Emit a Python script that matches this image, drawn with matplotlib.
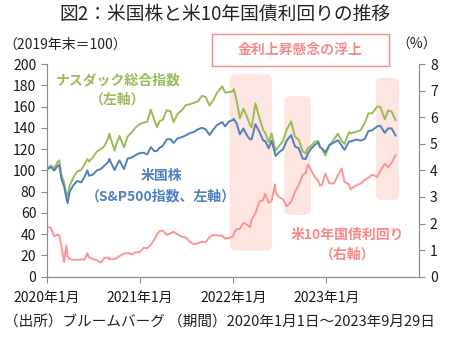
import numpy as np
import pandas as pd
import matplotlib
matplotlib.use('Agg')
import matplotlib.pyplot as plt
import matplotlib.dates as mdates
from matplotlib.patches import FancyBboxPatch, Rectangle

plt.rcParams['font.family'] = ['Noto Sans CJK JP', 'DejaVu Sans']

# 日付（半月ごと＋主な山・谷）
dates = [
    '2020-01-02', '2020-01-17', '2020-01-31', '2020-02-14', '2020-02-19', '2020-02-28',
    '2020-03-09', '2020-03-18', '2020-03-23', '2020-03-31', '2020-04-15', '2020-04-30',
    '2020-05-15', '2020-05-29', '2020-06-08', '2020-06-15', '2020-06-30', '2020-07-15',
    '2020-07-31', '2020-08-14', '2020-08-31', '2020-09-02', '2020-09-23', '2020-09-30',
    '2020-10-12', '2020-10-30', '2020-11-13', '2020-11-30', '2020-12-15', '2020-12-31',
    '2021-01-15', '2021-01-29', '2021-02-12', '2021-02-26', '2021-03-08', '2021-03-18',
    '2021-03-31', '2021-04-15', '2021-04-30', '2021-05-12', '2021-05-28', '2021-06-15',
    '2021-06-30', '2021-07-15', '2021-07-30', '2021-08-16', '2021-08-31', '2021-09-15',
    '2021-09-30', '2021-10-15', '2021-10-29', '2021-11-19', '2021-11-30', '2021-12-15',
    '2021-12-31',
    '2022-01-03', '2022-01-14', '2022-01-27', '2022-02-10', '2022-02-24', '2022-03-08',
    '2022-03-14', '2022-03-29', '2022-04-14', '2022-04-29', '2022-05-06', '2022-05-20',
    '2022-05-31', '2022-06-14', '2022-06-16', '2022-06-30', '2022-07-15', '2022-07-29',
    '2022-08-16', '2022-08-31', '2022-09-15', '2022-09-30', '2022-10-12', '2022-10-21',
    '2022-10-31', '2022-11-15', '2022-11-30', '2022-12-07', '2022-12-15', '2022-12-28',
    '2023-01-13', '2023-01-31', '2023-02-15', '2023-03-02', '2023-03-13', '2023-03-31',
    '2023-04-06', '2023-04-28', '2023-05-15', '2023-05-31', '2023-06-15', '2023-06-30',
    '2023-07-19', '2023-07-31', '2023-08-18', '2023-08-31', '2023-09-14', '2023-09-29',
]

# 米国株（S&P500、2019年末＝100）
sp500 = [
    100.8, 103.1, 99.8, 104.6, 104.8, 91.4,
    85.0, 74.2, 69.2, 80.0, 86.1, 90.1,
    88.6, 94.2, 100.0, 94.9, 96.0, 99.9,
    101.2, 104.4, 108.3, 110.8, 100.2, 104.1,
    109.4, 101.2, 111.0, 112.1, 114.4, 116.3,
    116.6, 115.0, 121.8, 118.0, 118.3, 121.2,
    123.0, 129.1, 129.4, 125.8, 130.1, 131.4,
    133.0, 135.0, 136.0, 138.6, 140.0, 138.7,
    133.3, 138.4, 142.5, 145.4, 141.4, 145.8,
    147.5,
    148.5, 144.3, 133.9, 139.4, 132.7, 129.1,
    129.2, 143.4, 136.0, 127.9, 127.6, 120.7,
    127.9, 115.6, 113.5, 117.2, 119.6, 127.8,
    133.2, 122.4, 120.7, 111.0, 110.7, 116.1,
    119.8, 123.6, 126.3, 121.7, 120.6, 117.1,
    123.8, 126.2, 128.4, 123.3, 119.3, 127.2,
    127.1, 129.0, 128.0, 129.4, 137.0, 137.7,
    141.3, 142.0, 135.3, 139.5, 139.4, 132.7,
]

# ナスダック総合指数（2019年末＝100）
nasdaq = [
    101.3, 104.6, 102.0, 108.5, 109.4, 95.5,
    88.6, 77.9, 76.5, 85.8, 93.5, 99.1,
    100.5, 105.8, 110.6, 108.4, 112.1, 117.6,
    119.8, 122.8, 131.2, 134.4, 118.5, 124.5,
    132.4, 121.6, 131.8, 136.0, 140.4, 143.6,
    144.9, 145.7, 157.1, 147.0, 140.5, 146.2,
    147.6, 156.5, 155.6, 145.2, 153.2, 156.8,
    161.6, 162.1, 163.5, 164.9, 170.1, 169.0,
    161.0, 166.0, 172.7, 179.0, 173.2, 173.5,
    174.4,
    176.5, 166.0, 148.8, 158.1, 150.2, 142.6,
    140.2, 162.9, 148.8, 137.5, 135.4, 126.6,
    134.6, 120.7, 118.6, 122.9, 127.6, 138.1,
    146.0, 131.7, 128.7, 117.9, 116.1, 121.0,
    122.5, 126.6, 127.8, 122.1, 120.5, 113.8,
    123.5, 129.1, 134.5, 127.7, 124.7, 136.2,
    134.7, 136.3, 137.8, 144.2, 153.6, 153.7,
    160.0, 159.9, 148.1, 156.4, 155.2, 147.3,
]

# 米10年国債利回り（%）
ust10y = [
    1.88, 1.84, 1.51, 1.59, 1.56, 1.13,
    0.54, 1.18, 0.76, 0.67, 0.63, 0.64,
    0.64, 0.65, 0.88, 0.72, 0.66, 0.62,
    0.53, 0.71, 0.72, 0.65, 0.67, 0.69,
    0.77, 0.87, 0.89, 0.84, 0.92, 0.92,
    1.09, 1.07, 1.20, 1.40, 1.59, 1.71,
    1.74, 1.57, 1.63, 1.69, 1.58, 1.50,
    1.47, 1.31, 1.22, 1.26, 1.31, 1.30,
    1.49, 1.57, 1.55, 1.54, 1.43, 1.46,
    1.51,
    1.63, 1.78, 1.80, 2.03, 1.96, 1.86,
    2.14, 2.39, 2.83, 2.89, 3.13, 2.78,
    2.85, 3.48, 3.19, 2.98, 2.92, 2.65,
    2.81, 3.19, 3.45, 3.83, 3.90, 4.22,
    4.05, 3.77, 3.61, 3.42, 3.45, 3.88,
    3.51, 3.51, 3.81, 4.06, 3.57, 3.47,
    3.29, 3.44, 3.50, 3.64, 3.72, 3.84,
    3.75, 3.97, 4.25, 4.11, 4.29, 4.57,
]

# 金利上昇懸念の期間（開始, 終了, 下端%, 上端%）
periods = [
    ('2021-12-18', '2022-06-02', 0.98, 7.62),
    ('2022-07-20', '2022-11-01', 2.32, 6.79),
    ('2023-07-15', '2023-10-13', 2.88, 7.48),
]

xticks = ['2020-01-01', '2021-01-01', '2022-01-01', '2023-01-01']
xticklabels = ['2020年1月', '2021年1月', '2022年1月', '2023年1月']

green = '#9BBB59'
blue = '#4F81BD'
pink = '#FF9393'
shade = '#FDE5E2'
label_pink = '#F58A8A'

x = pd.to_datetime(dates)

fig = plt.figure(figsize=(4.5, 3.37), dpi=100)
ax = fig.add_axes([0.1038, 0.179, 0.8284, 0.631])
ax2 = ax.twinx()

# 網掛け（左軸の単位に換算して描く）
ratio = 200 / 8
for start, end, lo, hi in periods:
    x0 = mdates.date2num(pd.Timestamp(start))
    x1 = mdates.date2num(pd.Timestamp(end))
    box = FancyBboxPatch((x0, lo * ratio), x1 - x0, (hi - lo) * ratio,
                         boxstyle='round,pad=0,rounding_size=24',
                         mutation_aspect=0.24, facecolor=shade,
                         edgecolor='none', zorder=0)
    ax.add_patch(box)

ax.plot(x, nasdaq, color=green, lw=1.4, zorder=2)
ax.plot(x, sp500, color=blue, lw=1.4, zorder=3)
ax2.plot(x, ust10y, color=pink, lw=1.4)

ax.set_xlim(pd.Timestamp('2020-01-01'), pd.Timestamp('2024-01-01'))
ax.set_ylim(0, 200)
ax.set_yticks(range(0, 201, 20))
ax2.set_ylim(0, 8)
ax2.set_yticks(range(0, 9))
ax.set_xticks(pd.to_datetime(xticks))
ax.set_xticklabels(xticklabels)

for a in (ax, ax2):
    a.spines['top'].set_visible(False)
    for s in ('left', 'right', 'bottom'):
        a.spines[s].set_color('#8C8C8C')
        a.spines[s].set_linewidth(0.8)
    a.tick_params(colors='#8C8C8C', labelcolor='#1A1A1A', labelsize=10,
                  length=4, width=0.8, direction='out')
ax.tick_params(axis='x', pad=6)

fig.text(0.5, 0.957, '図2：米国株と米10年国債利回りの推移', ha='center', va='center',
         fontsize=13.5, color='#222222')
fig.text(0.008, 0.866, '（2019年末＝100）', ha='left', va='center', fontsize=10, color='#222222')
fig.text(0.925, 0.866, '（%）', ha='center', va='center', fontsize=10, color='#222222')

# 凡例代わりの系列名
fig.text(0.262, 0.760, 'ナスダック総合指数', ha='center', va='center', fontsize=10,
         color=green, fontweight='bold')
fig.text(0.262, 0.703, '（左軸）', ha='center', va='center', fontsize=10,
         color=green, fontweight='bold')
fig.text(0.358, 0.478, '米国株', ha='center', va='center', fontsize=10,
         color=blue, fontweight='bold')
fig.text(0.358, 0.416, '（S&P500指数、左軸）', ha='center', va='center', fontsize=10,
         color=blue, fontweight='bold')
fig.text(0.773, 0.302, '米10年国債利回り', ha='center', va='center', fontsize=10,
         color=label_pink, fontweight='bold')
fig.text(0.773, 0.243, '（右軸）', ha='center', va='center', fontsize=10,
         color=label_pink, fontweight='bold')

# 「金利上昇懸念の浮上」の枠
fig.add_artist(Rectangle((0.472, 0.805), 0.393, 0.094, transform=fig.transFigure,
                         facecolor='white', edgecolor=label_pink, lw=1.0))
fig.text(0.668, 0.852, '金利上昇懸念の浮上', ha='center', va='center', fontsize=10,
         color=label_pink, fontweight='bold')

fig.text(0.008, 0.042, '（出所）ブルームバーグ （期間）2020年1月1日～2023年9月29日',
         ha='left', va='center', fontsize=10.5, color='#222222')

fig.savefig('out.png', dpi=100)
